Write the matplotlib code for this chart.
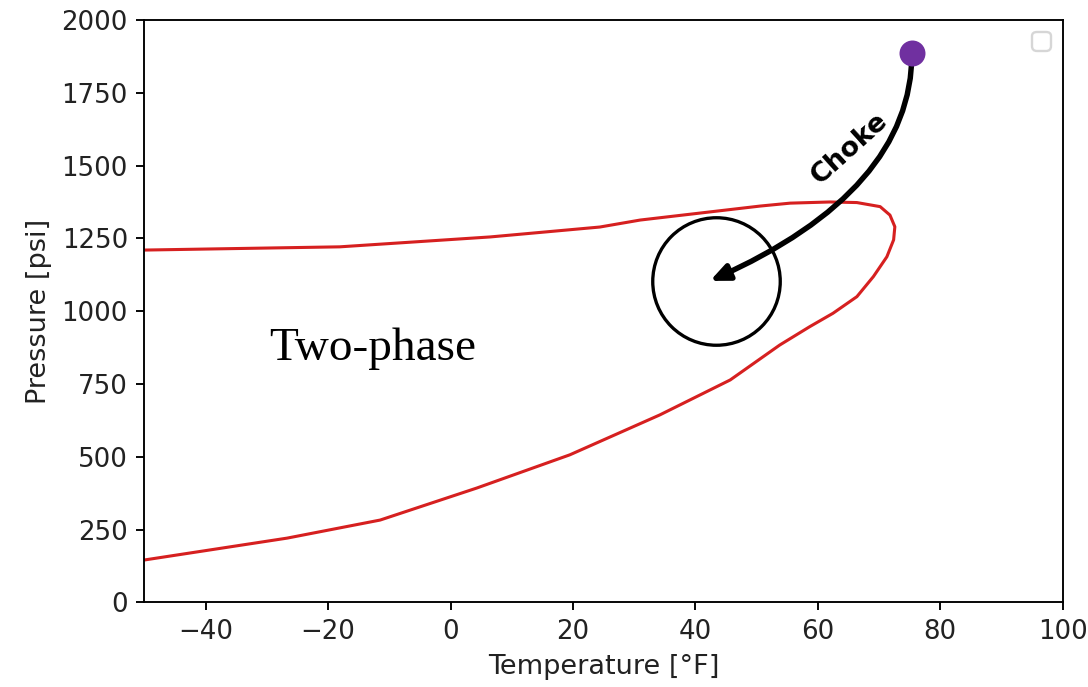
import numpy as np
import matplotlib.pyplot as plt

# phase envelope (upper branch -> nose -> lower branch)
env_temp = [-49.8, -18.1, 6.5, 24.4, 31.0, 50.6, 55.5, 62.0, 66.4, 70.2, 71.8, 72.6,
            72.4, 71.3, 69.1, 66.4, 62.5, 58.7, 53.8, 45.7, 34.2, 19.5, 4.3, -11.5,
            -26.7, -50.0]
env_pres = [1210, 1221, 1255, 1289, 1313, 1361, 1371, 1375, 1373, 1359, 1330, 1290,
            1245, 1187, 1119, 1050, 993, 947, 884, 764, 644, 507, 393, 283,
            221, 146]

# wellhead point and choke outlet
start_temp, start_pres = 75.4, 1887
end_temp, end_pres = 42.4, 1104
circle_temp, circle_pres = 43.4, 1105
choke_temp, choke_pres = 65.2, 1560
label_temp, label_pres = -12.7, 872

fig = plt.figure(figsize=(1088 / 170, 687 / 170), dpi=170)
ax = fig.add_axes([0.1328, 0.123, 0.8438, 0.848])

ax.plot(env_temp, env_pres, color='#d62020', lw=1.3)

# circle around the choke outlet
ax.plot([circle_temp], [circle_pres], marker='o', ms=54, mfc='none', mec='black', mew=1.4)

# choke path
ax.annotate('', xy=(end_temp, end_pres), xytext=(start_temp, start_pres),
            arrowprops=dict(arrowstyle='-|>,head_length=0.5,head_width=0.22',
                            connectionstyle='angle3,angleA=90,angleB=24',
                            color='black', lw=2.3, mutation_scale=13,
                            shrinkA=0, shrinkB=0))
ax.plot([start_temp], [start_pres], 'o', color='#7030a0', ms=10, zorder=5)

ax.text(choke_temp, choke_pres, 'Choke', rotation=42, fontsize=11.5, fontweight='bold',
        ha='center', va='center')
ax.text(label_temp, label_pres, 'Two-phase', family='Liberation Serif', fontsize=20,
        ha='center', va='center')

ax.legend(handles=[], loc='upper right')

ax.set_xlim(-50, 100)
ax.set_ylim(0, 2000)
ax.tick_params(labelsize=11, labelcolor='#222222')
ax.set_xlabel('Temperature [°F]', fontsize=11.5, color='#222222')
ax.set_ylabel('Pressure [psi]', fontsize=11.5, color='#222222')

fig.savefig('out.png', dpi=170)
